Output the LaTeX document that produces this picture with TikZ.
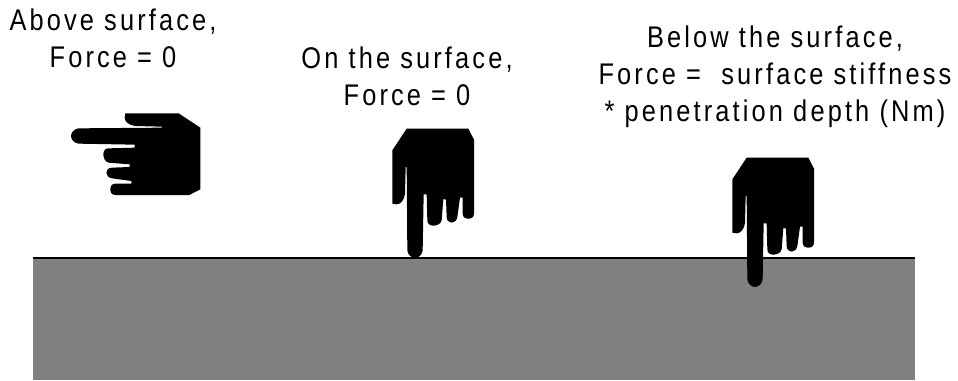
\documentclass[tikz,border=0pt]{standalone}
\usepackage{fontspec}
\setmainfont[LetterSpace=10.5,FakeStretch=0.85]{Liberation Sans}
\tikzset{
  caption/.style={align=center,inner sep=0pt,font=\fontsize{17pt}{21pt}\selectfont},
  hand/.pic={
    \fill[black,scale=1/3] (-25,388)--(160,388)--(177,355)--(177,133)
      .. controls (177,123) and (170,118) .. (160,118)
      .. controls (150,118) and (143,123) .. (143,133)
      --(143,181)--(135,181)--(127,123)
      .. controls (125,112) and (118,106) .. (110,106)
      .. controls (102,106) and (95,112) .. (95,123)
      --(93,175)--(85,177)--(80,113)
      .. controls (78,103) and (66,97) .. (55,97)
      .. controls (44,97) and (37,103) .. (37,113)
      --(35,191)--(26,191)--(23,23)
      .. controls (22,10) and (10,0) .. (0,0)
      .. controls (-10,0) and (-22,10) .. (-23,23)
      --(-25,273)--(-28,273)--(-30,193)
      .. controls (-32,175) and (-42,161) .. (-55,161)
      --(-68,163)--(-68,323)--cycle;
  }
}
\begin{document}
\begin{tikzpicture}[x=0.02cm,y=0.02cm]
\useasboundingbox (0,0) rectangle (958,380);
% surface
\fill[gray] (33,0) rectangle (915,122);
\draw[black,line width=1.2pt] (33,122)--(915,122);
% hands
\pic[rotate=-90] at (71,244) {hand};
\pic at (415,122) {hand};
\pic at (755,93) {hand};
% captions
\node[caption] (above) at (113,342) {Above surface,\\Force = 0};
\node[caption] (on) at (407,304) {On the surface,\\Force = 0};
\node[caption] (below) at (775,303) {Below the surface,\\Force =\ \ surface stiffness\\* penetration depth (Nm)};
\end{tikzpicture}
\end{document}
